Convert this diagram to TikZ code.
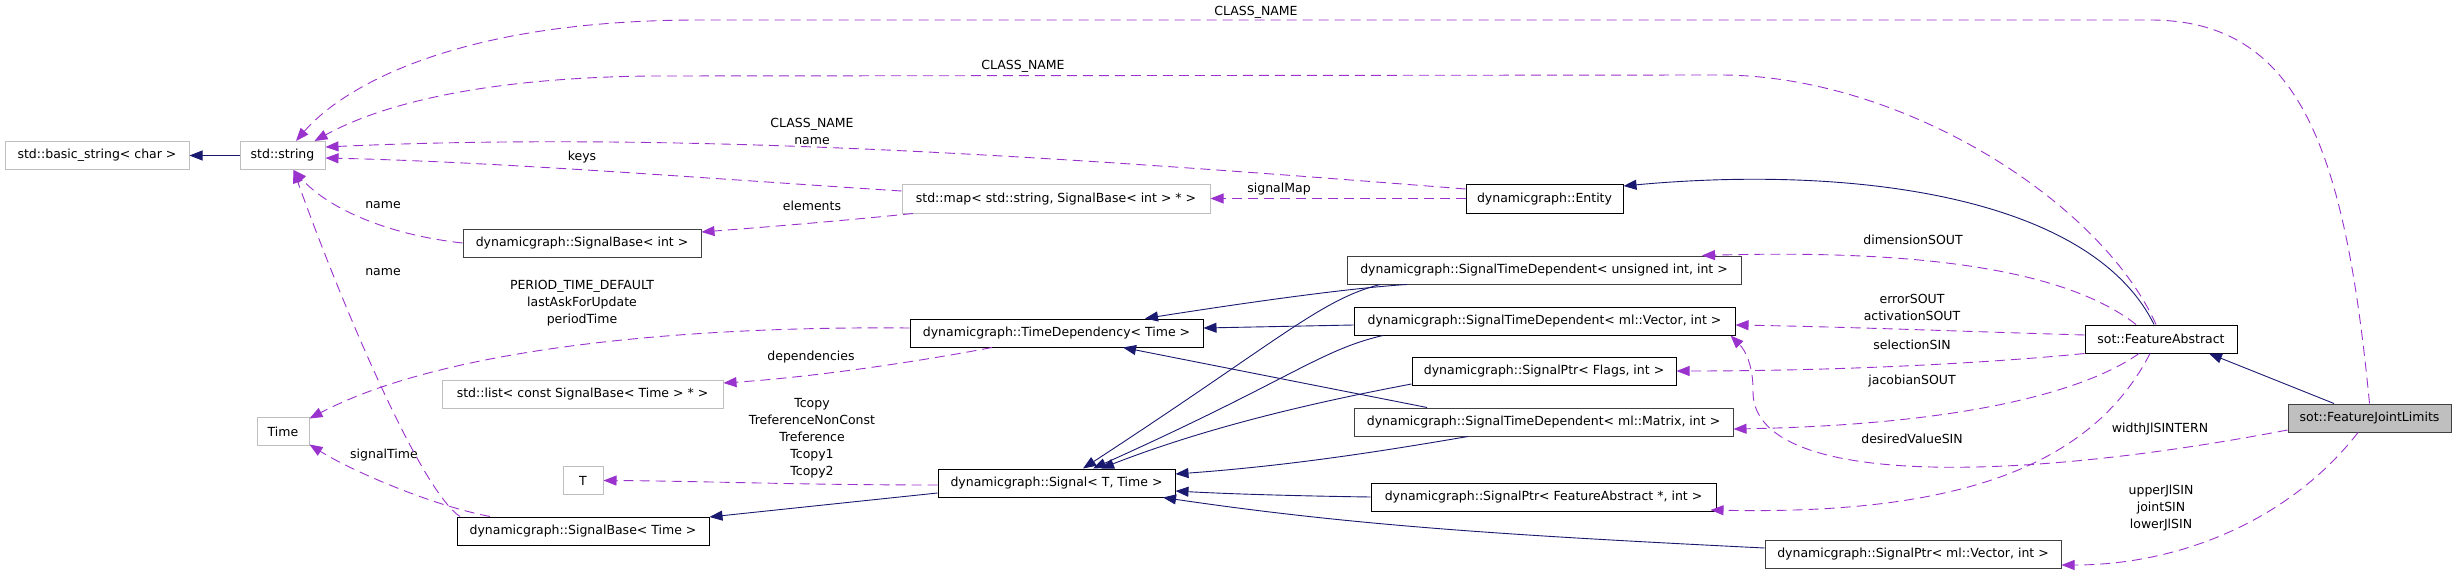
\documentclass[tikz,border=0pt]{standalone}
\usepackage{fontspec}
\setmainfont{DejaVu Sans}
\usetikzlibrary{arrows.meta}
\definecolor{inhcol}{HTML}{191970}
\definecolor{usecol}{HTML}{9A32CD}
\definecolor{undoc}{HTML}{BFBFBF}
\definecolor{dgray}{HTML}{404040}
\definecolor{fjlfill}{HTML}{BFBFBF}
\begin{document}
\begin{tikzpicture}[x=1pt,y=-1pt,
  cls/.style={draw=black, line width=1pt, rectangle, minimum height=28pt, inner sep=0pt, font=\fontsize{12.5}{15}\selectfont, fill=white},
  ext/.style={cls, draw=undoc},
  cls2/.style={cls, draw=dgray},
  lbl/.style={font=\fontsize{12.5}{17}\selectfont, align=center, inner sep=0pt},
  inh/.style={draw=inhcol, line width=0.9pt, -{Triangle[length=13pt,width=10pt]}},
  use/.style={draw=usecol, line width=0.9pt, dash pattern=on 10pt off 6pt, -{Triangle[length=13pt,width=10pt]}}]
\path[fill=white] (0,0) rectangle (2456,572);
\useasboundingbox (0,0) rectangle (2456,572);

% classes
\node[ext, minimum width=184pt] (bstr) at (97,155.5) {std::basic\_string< char >};
\node[ext, minimum width=85pt] (str) at (282.5,155.5) {std::string};
\node[ext, minimum width=308pt] (map) at (1056,199) {std::map< std::string, SignalBase< int > * >};
\node[cls, minimum width=157pt] (ent) at (1544.5,199) {dynamicgraph::Entity};
\node[cls2, minimum width=238pt] (sbint) at (582,243) {dynamicgraph::SignalBase< int >};
\node[cls2, minimum width=394pt] (stdu) at (1544,270) {dynamicgraph::SignalTimeDependent< unsigned int, int >};
\node[cls, minimum width=293pt] (td) at (1056.5,333) {dynamicgraph::TimeDependency< Time >};
\node[cls, minimum width=381pt] (stdv) at (1544.5,321) {dynamicgraph::SignalTimeDependent< ml::Vector, int >};
\node[cls, minimum width=152pt] (fa) at (2161,339) {sot::FeatureAbstract};
\node[ext, minimum width=281pt] (list) at (582.5,394) {std::list< const SignalBase< Time > * >};
\node[cls, minimum width=264pt] (flags) at (1544,371) {dynamicgraph::SignalPtr< Flags, int >};
\node[ext, minimum width=52pt] (time) at (283,431.5) {Time};
\node[cls2, minimum width=379pt] (stdm) at (1543.5,422) {dynamicgraph::SignalTimeDependent< ml::Matrix, int >};
\node[cls2, minimum width=163pt, fill=fjlfill] (fjl) at (2369.5,418) {sot::FeatureJointLimits};
\node[ext, minimum width=40pt] (tt) at (583,480.5) {T};
\node[cls, minimum width=237pt] (sig) at (1056.5,483) {dynamicgraph::Signal< T, Time >};
\node[cls, minimum width=345pt] (spfa) at (1543.5,497) {dynamicgraph::SignalPtr< FeatureAbstract *, int >};
\node[cls, minimum width=252pt] (sbtime) at (583,531) {dynamicgraph::SignalBase< Time >};
\node[cls2, minimum width=296pt] (spv) at (1913,554) {dynamicgraph::SignalPtr< ml::Vector, int >};

% labels
\node[lbl] (l1) at (1256,12) {CLASS\_NAME};
\node[lbl] (l2) at (1023,66) {CLASS\_NAME};
\node[lbl] (l3) at (812,131.5) {CLASS\_NAME\\name};
\node[lbl] (l4) at (582,157) {keys};
\node[lbl] (l5) at (383,205) {name};
\node[lbl] (l6) at (383,272) {name};
\node[lbl] (l7) at (384,455) {signalTime};
\node[lbl] (l8) at (582,303) {PERIOD\_TIME\_DEFAULT\\lastAskForUpdate\\periodTime};
\node[lbl] (l9) at (811,357) {dependencies};
\node[lbl] (l10) at (812,206) {elements};
\node[lbl] (l11) at (1279,189) {signalMap};
\node[lbl] (l12) at (812,438.5) {Tcopy\\TreferenceNonConst\\Treference\\Tcopy1\\Tcopy2};
\node[lbl] (l13) at (1913,240) {dimensionSOUT};
\node[lbl] (l14) at (1912,307) {errorSOUT\\activationSOUT};
\node[lbl] (l15) at (1912,345) {selectionSIN};
\node[lbl] (l16) at (1912,381) {jacobianSOUT};
\node[lbl] (l17) at (1912,439) {desiredValueSIN};
\node[lbl] (l18) at (2160,429) {widthJlSINTERN};
\node[lbl] (l19) at (2161,507.5) {upperJlSIN\\jointSIN\\lowerJlSIN};

% inheritance
\draw[inh] (str.west) -- (bstr.east);
\draw[inh] ([xshift=-7pt]fa.north) .. controls (2090,195) and (1850,165) .. ([yshift=13pt]ent.east);
\draw[inh] ([xshift=-35.5pt]fjl.north) -- ([xshift=48pt]fa.south);
\draw[inh] ([xshift=-137pt]stdu.south) .. controls (1350,288) and (1250,302) .. ([xshift=88.5pt]td.north);
\draw[inh] ([xshift=-164pt]stdu.south) .. controls (1320,300) and (1280,340) .. ([xshift=26.5pt]sig.north);
\draw[inh] ([yshift=-4pt]stdv.west) -- ([yshift=5pt]td.east);
\draw[inh] ([xshift=-161.5pt]stdv.south) .. controls (1320,350) and (1290,380) .. ([xshift=36.5pt]sig.north);
\draw[inh] ([yshift=-13pt]flags.west) .. controls (1300,405) and (1200,430) .. ([xshift=44.5pt]sig.north);
\draw[inh] ([xshift=-116.5pt]stdm.north) -- ([xshift=66.5pt]td.south);
\draw[inh] ([xshift=-75.5pt]stdm.south) .. controls (1400,448) and (1300,465) .. ([yshift=9pt]sig.east);
\draw[inh] (spfa.west) .. controls (1300,496) and (1230,494) .. ([yshift=-8pt]sig.east);
\draw[inh] ([yshift=6pt]spv.west) .. controls (1500,535) and (1350,525) .. ([xshift=106.5pt]sig.south);
\draw[inh] ([yshift=-10pt]sig.west) -- ([yshift=14pt]sbtime.east);

% usage
\draw[use] (fjl.north) .. controls (2345,150) and (2300,20) .. (2150,20) -- (700,20) .. controls (450,20) and (340,90) .. ([xshift=13.5pt]str.north);
\draw[use] ([xshift=-5pt]fa.north) .. controls (2100,200) and (1900,75) .. (1720,75) -- (650,76) .. controls (480,78) and (380,105) .. ([xshift=32pt]str.north);
\draw[use] ([yshift=10pt]ent.west) .. controls (1100,160) and (700,130) .. ([yshift=8.5pt]str.east);
\draw[use] ([yshift=8pt]map.west) .. controls (700,178) and (500,162) .. ([yshift=-2.5pt]str.east);
\draw[use] (sbint.west) .. controls (390,235) and (330,210) .. ([xshift=11pt]str.south);
\draw[use] ([xshift=-123pt]sbtime.north) .. controls (420,490) and (340,300) .. ([xshift=11pt]str.south);
\draw[use] ([xshift=-93pt]sbtime.north) .. controls (430,505) and (350,470) .. ([yshift=-13pt]time.east);
\draw[use] ([yshift=5pt]td.west) .. controls (700,326) and (450,345) .. ([yshift=13pt]time.east);
\draw[use] ([xshift=-64.5pt]td.south) .. controls (900,365) and (800,378) .. ([yshift=11pt]list.east);
\draw[use] ([xshift=-143pt]map.south) .. controls (850,220) and (780,226) .. ([yshift=11pt]sbint.east);
\draw[use] ([yshift=0.5pt]ent.west) -- ([yshift=0.5pt]map.east);
\draw[use] ([yshift=-2pt]sig.west) .. controls (800,485) and (700,481) .. (tt.east);
\draw[use] ([xshift=-25pt]fa.north) .. controls (2060,265) and (1900,250) .. ([xshift=158pt]stdu.north);
\draw[use] ([yshift=4pt]fa.west) .. controls (1950,331) and (1850,327) .. ([yshift=-4pt]stdv.east);
\draw[use] (fa.south west) .. controls (2000,362) and (1850,371) .. (flags.east);
\draw[use] ([xshift=-22pt]fa.south) .. controls (2080,395) and (1950,425) .. ([yshift=-7pt]stdm.east);
\draw[use] ([xshift=-11pt]fa.south) .. controls (2090,470) and (1950,515) .. ([xshift=-6pt,yshift=-13pt]spfa.east);
\draw[use] ([yshift=-12pt]fjl.west) .. controls (2000,485) and (1750,485) .. (1753,390) .. controls (1753,365) and (1745,350) .. ([xshift=-5pt]stdv.south east);
\draw[use] ([xshift=-11.5pt]fjl.south) .. controls (2290,520) and (2180,565) .. ([yshift=-11pt]spv.east);
\end{tikzpicture}
\end{document}
